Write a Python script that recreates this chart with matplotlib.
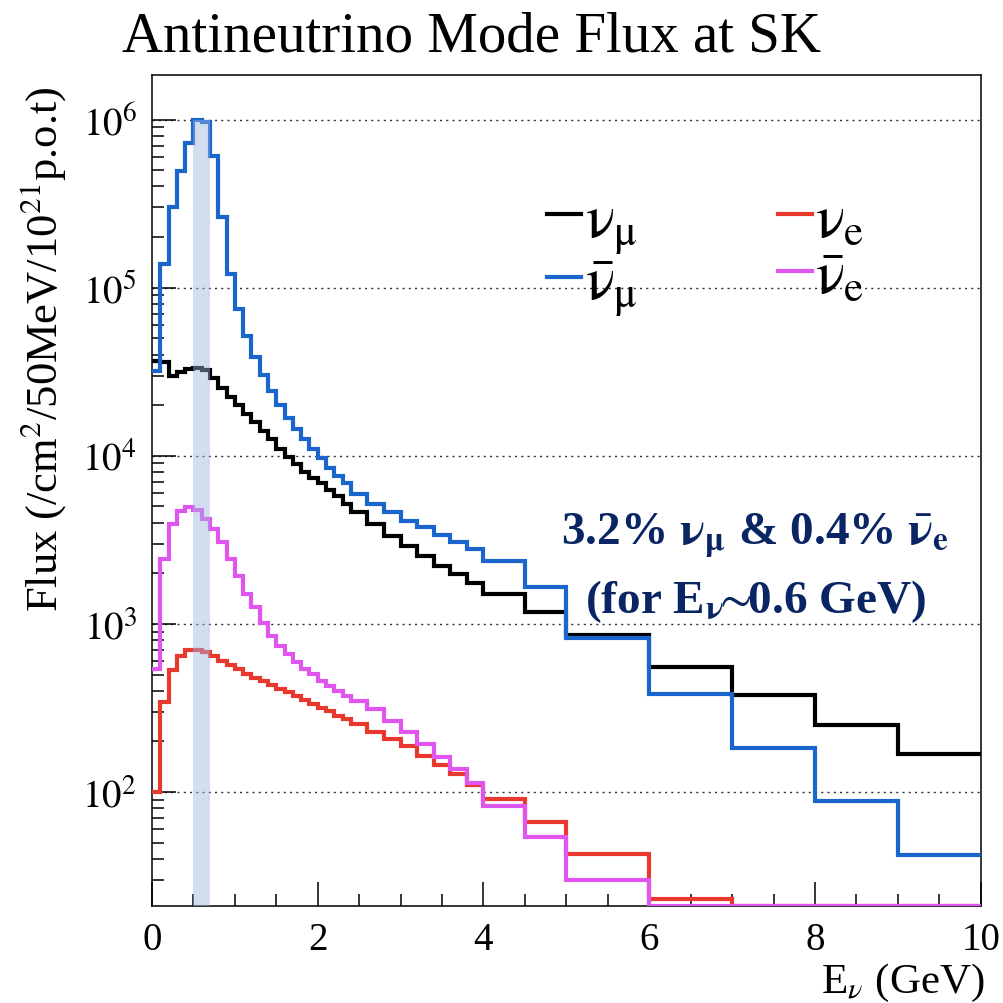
'''
Antineutrino mode flux at SK, ROOT-style log histogram
'''
import numpy as np
import matplotlib
matplotlib.use('Agg')
import matplotlib.pyplot as plt
from matplotlib.ticker import LogLocator, NullFormatter, FixedLocator

plt.rcParams['font.family'] = ['Liberation Serif', 'DejaVu Serif']
plt.rcParams['mathtext.fontset'] = 'stix'

# bin edges (GeV): 0.1 GeV to 2.4, 0.2 GeV to 4.0, then coarse
edges = np.concatenate([np.round(np.arange(0, 2.45, 0.1), 2),
                        np.round(np.arange(2.6, 4.05, 0.2), 2),
                        [4.5, 5, 6, 7, 8, 9, 10]])

numu = [3.67e4, 3.6e4, 2.99e4, 3.13e4, 3.28e4, 3.31e4, 3.24e4, 2.89e4,
        2.52e4, 2.23e4, 2.0e4, 1.77e4, 1.58e4, 1.41e4, 1.26e4, 1.10e4,
        9.8e3, 8.9e3, 8.0e3, 7.4e3, 6.9e3, 6.3e3, 5.8e3, 5.15e3,
        4.6e3, 3.92e3, 3.34e3, 2.91e3, 2.54e3, 2.21e3, 1.98e3, 1.76e3,
        1.50e3, 1.18e3, 863, 551, 377, 250, 168]
numubar = [3.2e4, 1.38e5, 3.01e5, 4.97e5, 7.24e5, 1.0e6, 9.65e5, 6.05e5,
           2.62e5, 1.21e5, 7.47e4, 5.18e4, 3.89e4, 3.04e4, 2.44e4, 2.0e4,
           1.68e4, 1.44e4, 1.26e4, 1.10e4, 9.7e3, 8.5e3, 7.6e3, 6.9e3,
           5.9e3, 5.2e3, 4.6e3, 4.1e3, 3.77e3, 3.37e3, 3.05e3, 2.79e3,
           2.37e3, 1.65e3, 830, 385, 184, 88, 42]
nue = [100, 342, 535, 647, 703, 700, 678, 647, 605, 570, 540, 504,
       475, 455, 435, 410, 394, 373, 355, 334, 318, 303, 285, 272,
       254, 228, 207, 187, 163, 145, 128, 110,
       91, 66, 43, 23, 0, 0, 0]
nuebar = [540, 2440, 3940, 4690, 4950, 4790, 4210, 3670, 3060, 2440,
          1940, 1510, 1260, 1010, 851, 743, 663, 591, 540, 504, 460,
          430, 401, 374,
          349, 312, 266, 229, 193, 162, 137, 113,
          83, 54, 30, 0, 0, 0, 0]

labels = [r'$\mathrm{\nu}_{\mathrm{\mu}}$', r'$\bar{\mathrm{\nu}}_{\mathrm{\mu}}$',
          r'$\mathrm{\nu}_{\mathrm{e}}$', r'$\bar{\mathrm{\nu}}_{\mathrm{e}}$']
colors = ['#000000', '#1a66cc', '#e8392e', '#e055f0']

band_range = (0.5, 0.7)   # highlighted energy window
band_top = 1e6
ymin, ymax = 21, 1.84e6

fig = plt.figure(figsize=(10.04, 10.04), dpi=100)
ax = fig.add_axes([152 / 1004, 1 - 907 / 1004, 828.7 / 1004, 831 / 1004])
ax.set_yscale('log')

for vals, lab, col, z in zip([numu, numubar, nue, nuebar], labels, colors, [3, 4, 5, 6]):
    v = np.clip(np.array(vals, dtype=float), ymin, None)
    ax.stairs(v, edges, baseline=None, color=col, lw=3, label=lab, zorder=z)

ax.fill_between(band_range, ymin, band_top, color='#9fb4df', alpha=0.45,
                lw=0, zorder=8)

ax.set_xlim(0, 10)
ax.set_ylim(ymin, ymax)

# ROOT-like ticks
ax.xaxis.set_major_locator(FixedLocator([0, 2, 4, 6, 8, 10]))
ax.xaxis.set_minor_locator(FixedLocator(np.arange(0, 10.01, 0.5)))
ax.yaxis.set_minor_locator(LogLocator(base=10, subs=np.arange(2, 10)))
ax.yaxis.set_minor_formatter(NullFormatter())
ax.set_yticks([1e2, 1e3, 1e4, 1e5, 1e6],
              [r'$10^{2}$', r'$10^{3}$', r'$10^{4}$', r'$10^{5}$', r'$10^{6}$'])
ax.tick_params(which='both', direction='in', top=False, right=False,
               width=1.1, labelsize=28)
ax.tick_params(which='major', length=17)
ax.tick_params(which='minor', length=8.5)
ax.tick_params(axis='y', pad=11)
ax.tick_params(axis='x', pad=11)
for s in ax.spines.values():
    s.set_linewidth(1.1)

ax.yaxis.grid(True, which='major', color='#333333', lw=1.0,
              linestyle=(0, (1.5, 3)))
ax.xaxis.grid(False)

ax.set_ylabel(r'Flux (/cm$^{2}$/50MeV/10$^{21}$p.o.t)', fontsize=32, loc='top')
ax.yaxis.set_label_coords(-0.101, 0.988)
ax.set_xlabel(r'E$_{\nu}$ (GeV)', fontsize=31, loc='right')
ax.xaxis.set_label_coords(1.005, -0.066)

fig.text(122 / 1004, 1 - 51 / 1004, 'Antineutrino Mode Flux at SK',
         fontsize=41, va='baseline', ha='left')

leg = ax.legend(ncol=2, loc='upper left', bbox_to_anchor=(0.477, 0.858),
                frameon=False, fontsize=44, handlelength=0.55,
                handletextpad=0.06, columnspacing=2.3, labelspacing=0.02,
                borderpad=0, borderaxespad=0)

navy = '#0a2563'
ax.text(0.728, 0.447,
        r'3.2% $\mathbf{\nu}_{\mathbf{\mu}}$ & 0.4% $\bar{\mathbf{\nu}}_{\mathbf{e}}$',
        transform=ax.transAxes, ha='center', va='center', fontsize=34,
        fontweight='bold', color=navy, zorder=10)
ax.text(0.728, 0.368, r'(for E$_{\mathbf{\nu}}$$\!\!\sim\!\!$0.6 GeV)',
        transform=ax.transAxes, ha='center', va='center', fontsize=34,
        fontweight='bold', color=navy, zorder=10)

fig.savefig('out.png', dpi=100)
